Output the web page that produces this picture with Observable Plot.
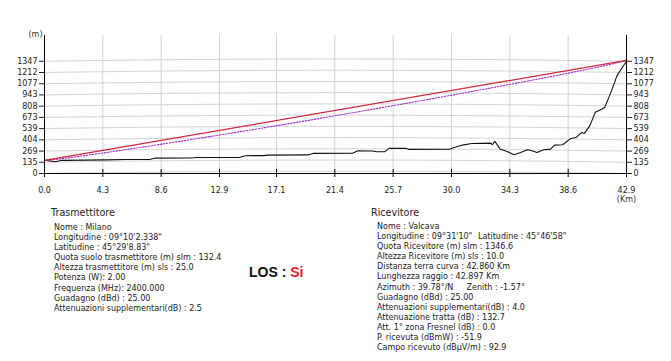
<!DOCTYPE html>
<html><head><meta charset="utf-8">
<script src="https://cdn.jsdelivr.net/npm/d3@7"></script>
<script src="https://cdn.jsdelivr.net/npm/@observablehq/plot@0.6"></script>
<style>
body{margin:0;background:#fff;}
#wrap{position:relative;width:671px;height:361px;overflow:hidden;font-family:"DejaVu Sans",sans-serif;color:#222;}
#wrap svg{position:absolute;left:0;top:0;}
.blk{position:absolute;font-size:8px;line-height:10.1px;white-space:pre;}
.blk div{position:relative;height:10.1px;}
.blk span{position:absolute;top:0;}
.hdr{position:absolute;font-size:9.6px;line-height:12px;white-space:pre;}
#los{position:absolute;font-family:"Liberation Sans",Arial,sans-serif;font-weight:bold;font-size:14px;line-height:14px;white-space:pre;color:#111;}
#los b{color:#e0202a;}
</style></head><body><div id="wrap"></div>
<script>
// Terrain profile (distance km, height m a.s.l., as drawn incl. earth bulge)
const distKm = [0,0.4,0.8,1.3,3,4.6,6,7.8,8.2,10.8,11.2,14.4,14.8,16.1,16.5,19.4,19.8,22.7,23.1,24.2,24.5,25.1,25.4,26.6,26.9,29.9,30.2,30.8,31.5,32.9,33.0,33.2,33.6,34.1,34.6,35.1,35.6,36.0,36.3,36.8,37.3,37.6,38.2,38.8,39.2,39.6,39.8,40.2,40.6,41.1,41.3,41.8,42.2,42.6,42.9];
const terrainM = [160,150,141,158,161,163,168,170,185,186,192,194,213,215,221,223,241,243,273,270,261,262,301,302,289,293,313,341,360,365,345,385,290,265,225,253,285,270,253,285,293,341,345,421,433,493,481,574,734,774,794,995,1175,1275,1347];
// Line of sight (straight ray)
const losDist = [0,42.9];
const losM = [157.4,1356.6];
// Lower (dotted) ray envelope
const lowDist = [0,1,2,4.3,8.6,12.9,17.1,21.4,25.7,30.0,34.3,38.6,40.9,41.9,42.9];
const lowM = [157,172,193,246,351,462,573,692,814,940,1069,1204,1281,1316,1357];
// Axis ticks
const xTicks = [0,4.3,8.6,12.9,17.1,21.4,25.7,30.0,34.3,38.6,42.9];
const yTicks = [0,135,269,404,539,673,808,943,1077,1212,1347];
// Text blocks
const txTitle = "Trasmettitore";
const txLines = [
  ["Nome : Milano"],
  ["Longitudine : 09°10'2.338\""],
  ["Latitudine : 45°29'8.83\""],
  ["Quota suolo trasmettitore (m) slm : 132.4"],
  ["Altezza trasmettitore (m) sls : 25.0"],
  ["Potenza (W): 2.00"],
  ["Frequenza (MHz): 2400.000"],
  ["Guadagno (dBd) : 25.00"],
  ["Attenuazioni supplementari(dB) : 2.5"]
];
const rxTitle = "Ricevitore";
const rxLines = [
  ["Nome : Valcava"],
  ["Longitudine : 09°31'10\"", "Latitudine : 45°46'58\"", 101],
  ["Quota Ricevitore (m) slm : 1346.6"],
  ["Altezza Ricevitore (m) sls : 10.0"],
  ["Distanza terra curva : 42.860 Km"],
  ["Lunghezza raggio : 42.897 Km"],
  ["Azimuth : 39.78°/N", "Zenith : -1.57°", 89.5],
  ["Guadagno (dBd) : 25.00"],
  ["Attenuazioni supplementari(dB) : 4.0"],
  ["Attenuazione tratta (dB) : 132.7"],
  ["Att. 1° zona Fresnel (dB) : 0.0"],
  ["P. ricevuta (dBmW) : -51.9"],
  ["Campo ricevuto (dBµV/m) : 92.9"]
];
const losLabel = "LOS : ";
const losValue = "Si";

const xMax = 42.9, yMax = 1656;
const terrain = distKm.map((d,i)=>({d, v: terrainM[i]}));
const los = losDist.map((d,i)=>({d, v: losM[i]}));
const low = lowDist.map((d,i)=>({d, v: lowM[i]}));
// curved (earth-bulge) horizontal grid lines
const samples = d3.range(0, 101).map(i => i*xMax/100);
const grid = yTicks.flatMap(t => samples.map(d => ({k:t, d, v: t + d*(xMax-d)/16.99})));

const chart = Plot.plot({
  width: 671, height: 361,
  marginLeft: 44, marginRight: 45, marginTop: 35, marginBottom: 188,
  x: {domain: [0, xMax]},
  y: {domain: [0, yMax]},
  style: {fontFamily: "DejaVu Sans, sans-serif", fontSize: "8px", color: "#222", background: "transparent", overflow: "visible"},
  marks: [
    Plot.ruleX(xTicks, {y1: 0, y2: yMax, stroke: "#d4d4d4"}),
    Plot.line(grid, {x: "d", y: "v", z: "k", stroke: "#d4d4d4", strokeWidth: 1}),
    Plot.line(terrain, {x: "d", y: "v", stroke: "#111", strokeWidth: 1.1}),
    Plot.line(low, {x: "d", y: "v", stroke: "#9a2fd0", strokeWidth: 1.1, strokeDasharray: "1.5,1.5", curve: "monotone-x"}),
    Plot.line(los, {x: "d", y: "v", stroke: "#d0283a", strokeWidth: 1.2}),
    Plot.ruleY([0], {stroke: "#000"}),
    Plot.ruleX([0, xMax], {y1: 0, y2: yMax, stroke: "#000"}),
    Plot.ruleX(xTicks, {y1: 0, y2: 48, stroke: "#000"}),
    Plot.axisX({ticks: xTicks, tickFormat: d => d.toFixed(1), tickSize: 4, tickPadding: 10, label: null, stroke: "#000"}),
    Plot.axisY({anchor: "left", ticks: yTicks, tickFormat: d => String(d), tickSize: 5, tickPadding: 2, label: null}),
    Plot.axisY({anchor: "right", ticks: yTicks, tickFormat: d => String(d), tickSize: 5, tickPadding: 2, label: null}),
    Plot.text(["(m)"], {frameAnchor: "top-left", dx: -9, dy: -4, textAnchor: "middle", fill: "#333"}),
    Plot.text(["(Km)"], {frameAnchor: "bottom-right", dy: 28, textAnchor: "middle", fill: "#333"})
  ]
});
const wrap = document.getElementById("wrap");
wrap.appendChild(chart);

function addBlock(title, lines, hx, hy, lx, ly) {
  const h = document.createElement("div");
  h.className = "hdr"; h.style.left = hx + "px"; h.style.top = hy + "px";
  h.textContent = title; wrap.appendChild(h);
  const b = document.createElement("div");
  b.className = "blk"; b.style.left = lx + "px"; b.style.top = ly + "px";
  lines.forEach(l => {
    const row = document.createElement("div");
    row.textContent = l[0];
    if (l.length > 1) {
      const s = document.createElement("span");
      s.style.left = l[2] + "px"; s.textContent = l[1];
      row.appendChild(s);
    }
    b.appendChild(row);
  });
  wrap.appendChild(b);
}
addBlock(txTitle, txLines, 51, 207, 54, 223);
addBlock(rxTitle, rxLines, 371, 207, 377, 222);
const l = document.createElement("div");
l.id = "los"; l.style.left = "249px"; l.style.top = "265px";
l.textContent = losLabel;
const sv = document.createElement("b"); sv.textContent = losValue; l.appendChild(sv);
wrap.appendChild(l);
</script></body></html>
